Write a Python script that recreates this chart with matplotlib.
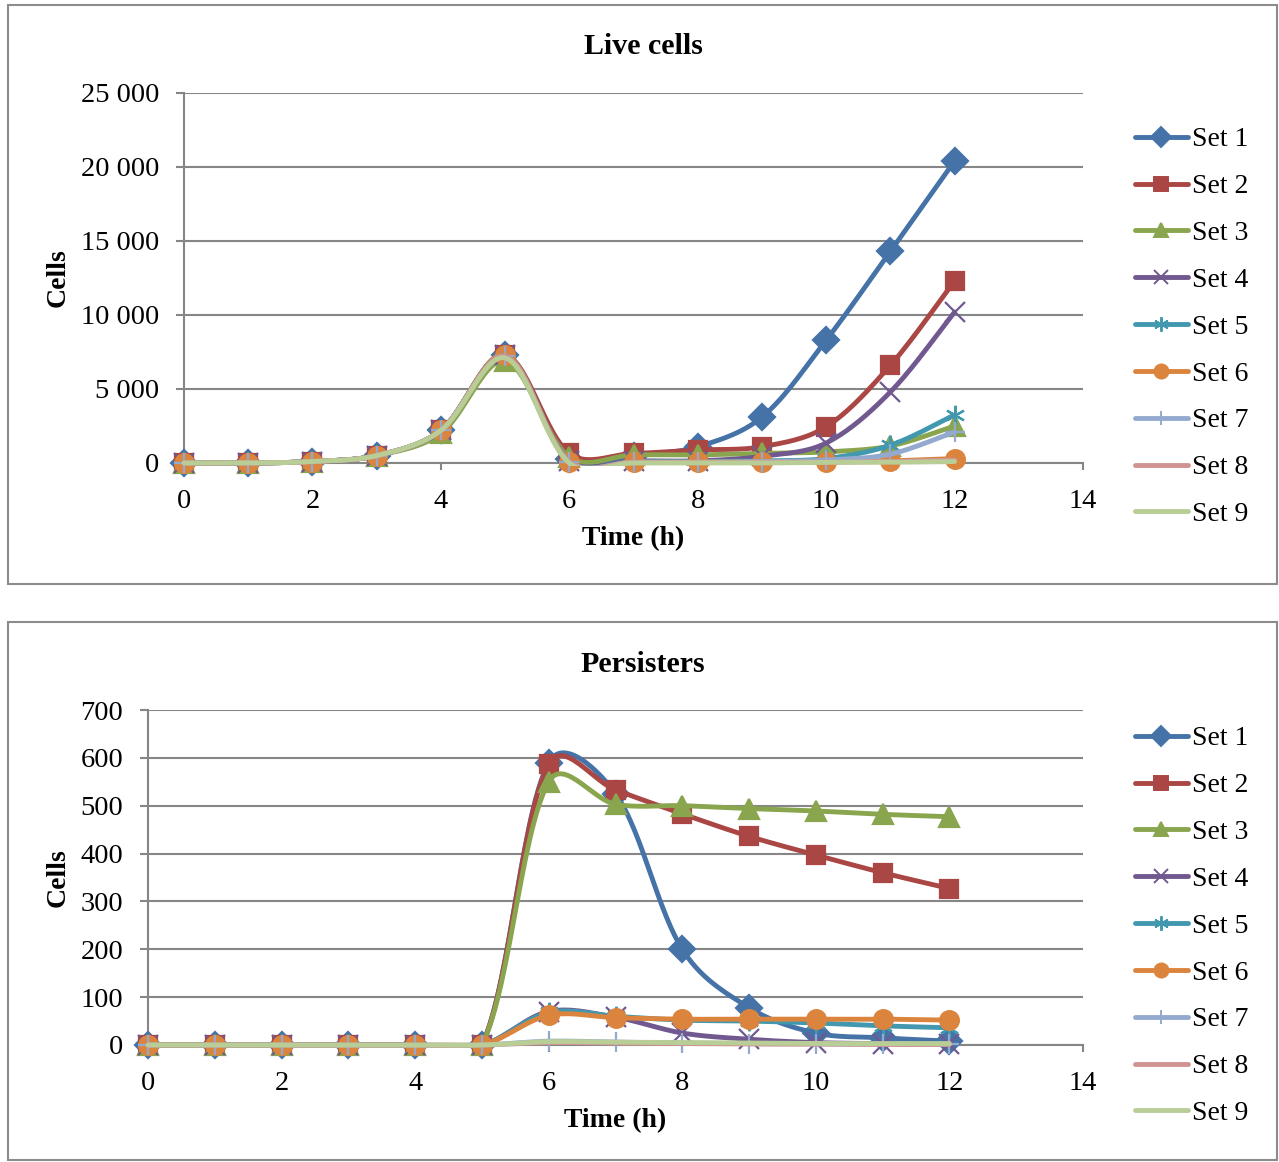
import numpy as np
import matplotlib
matplotlib.use("Agg")
import matplotlib.pyplot as plt
from matplotlib.patches import Rectangle
from matplotlib.lines import Line2D
from matplotlib.transforms import Bbox
from matplotlib.ticker import FuncFormatter, MultipleLocator

plt.rcParams["font.family"] = ["Liberation Serif", "DejaVu Serif"]

W, H = 1279, 1162

hours = list(range(13))
set_names = ["Set 1", "Set 2", "Set 3", "Set 4", "Set 5", "Set 6", "Set 7", "Set 8", "Set 9"]

# live cells
live_set1 = [0, 0, 100, 500, 2200, 7300, 300, 500, 1100, 3100, 8300, 14300, 20400]
live_set2 = [0, 0, 100, 500, 2200, 7300, 650, 650, 880, 1100, 2450, 6600, 12300]
live_set3 = [0, 0, 100, 500, 2000, 6900, 400, 550, 550, 650, 750, 1150, 2500]
live_set4 = [0, 0, 100, 500, 2200, 7300, 150, 150, 150, 450, 1350, 4800, 10200]
live_set5 = [0, 0, 100, 500, 2200, 7300, 100, 100, 100, 150, 300, 1200, 3250]
live_set6 = [0, 0, 100, 500, 2200, 7300, 100, 50, 50, 50, 100, 150, 300]
live_set7 = [0, 0, 100, 500, 2200, 7200, 100, 50, 50, 100, 200, 600, 2100]
live_set8 = [0, 0, 100, 500, 2200, 7200, 50, 50, 50, 50, 50, 100, 200]
live_set9 = [0, 0, 100, 500, 2200, 7100, 0, 0, 0, 0, 50, 50, 100]

# persisters
pers_set1 = [0, 0, 0, 0, 0, 0, 590, 525, 200, 78, 25, 15, 8]
pers_set2 = [0, 0, 0, 0, 0, 0, 587, 533, 483, 436, 397, 360, 327]
pers_set3 = [0, 0, 0, 0, 0, 0, 550, 503, 500, 494, 489, 482, 477]
pers_set4 = [0, 0, 0, 0, 0, 0, 70, 58, 25, 12, 5, 3, 2]
pers_set5 = [0, 0, 0, 0, 0, 0, 68, 60, 52, 50, 46, 40, 36]
pers_set6 = [0, 0, 0, 0, 0, 0, 62, 57, 54, 54, 54, 54, 52]
pers_set7 = [0, 0, 0, 0, 0, 0, 8, 6, 4, 3, 2, 2, 2]
pers_set8 = [0, 0, 0, 0, 0, 0, 5, 4, 3, 2, 2, 1, 1]
pers_set9 = [0, 0, 0, 0, 0, 0, 7, 6, 5, 4, 3, 3, 3]

live = [live_set1, live_set2, live_set3, live_set4, live_set5,
        live_set6, live_set7, live_set8, live_set9]
pers = [pers_set1, pers_set2, pers_set3, pers_set4, pers_set5,
        pers_set6, pers_set7, pers_set8, pers_set9]

colors = ["#4572A7", "#AA4643", "#89A54E", "#71588F", "#4198AF",
          "#DB843D", "#93A9CF", "#D19392", "#B9CD96"]
markers = ["D", "s", "^", "x", (6, 2, 0), "o", "+", "None", "None"]
msizes = [13, 13.5, 14, 14, 14, 13.5, 14, 0, 0]
grey = "#868686"
LW = 3.5


def smooth(ax, x, y, n=30):
    # excel-like smoothed line, bezier built in screen space
    pts = ax.transData.transform(np.column_stack([x, y]).astype(float))
    P = np.vstack([pts[:1], pts, pts[-1:]])
    t = np.linspace(0, 1, n, endpoint=False)[:, None]
    segs = []
    for i in range(len(pts) - 1):
        p0, p1, p2, p3 = P[i], P[i + 1], P[i + 2], P[i + 3]
        la, lb, lc = np.linalg.norm(p1 - p0), np.linalg.norm(p2 - p1), np.linalg.norm(p3 - p2)
        r1 = np.sqrt(2 * lb / (la + lb)) if la + lb > 0 else 0
        r2 = np.sqrt(2 * lb / (lb + lc)) if lb + lc > 0 else 0
        c1 = p1 + (p2 - p0) / 6 * r1
        c2 = p2 - (p3 - p1) / 6 * r2
        b = ((1 - t) ** 3) * p1 + 3 * (1 - t) ** 2 * t * c1 + 3 * (1 - t) * t ** 2 * c2 + t ** 3 * p2
        segs.append(b)
    segs.append(pts[-1:])
    out = ax.transData.inverted().transform(np.vstack(segs))
    return out[:, 0], out[:, 1]


def fmt(v, pos):
    return f"{int(round(v)):,}".replace(",", " ")


def panel(box, title, data, ymax, ystep, legend_top):
    left, top, right, bottom = box
    ax = fig.add_axes([left / W, 1 - bottom / H, (right - left) / W, (bottom - top) / H])
    ax.set_xlim(0, 14)
    ax.set_ylim(0, ymax)
    x0, y0, x1, y1 = ax.bbox.extents
    clip = Bbox.from_extents(x0 - 8, y0 - 2.5, x1 + 8, y1 + 8)
    handles = []
    for k, (name, vals, c, m, ms) in enumerate(zip(set_names, data, colors, markers, msizes)):
        xs, ys = smooth(ax, hours, vals)
        ln, = ax.plot(xs, ys, color=c, lw=LW, solid_capstyle="round", zorder=3 + k * 0.1)
        ln.set_clip_box(clip)
        if m != "None":
            ax.plot(hours, vals, ls="none", marker=m, ms=ms, mfc=c, mec=c, mew=1.6,
                    clip_on=False, zorder=3.05 + k * 0.1)
        handles.append(Line2D([], [], color=c, lw=LW, marker=m, ms=ms * 0.75,
                              mfc=c, mec=c, mew=1.4, solid_capstyle="round"))
    ax.xaxis.set_major_locator(MultipleLocator(2))
    ax.yaxis.set_major_locator(MultipleLocator(ystep))
    ax.yaxis.set_major_formatter(FuncFormatter(fmt))
    ax.grid(axis="y", color=grey, lw=1.5)
    ax.set_axisbelow(True)
    for s in ["top", "right"]:
        ax.spines[s].set_visible(False)
    for s in ["left", "bottom"]:
        ax.spines[s].set_color(grey)
        ax.spines[s].set_linewidth(1.5)
    ax.tick_params(axis="y", length=6, width=1.5, color=grey, pad=12, labelsize=20.5)
    ax.tick_params(axis="x", length=5, width=1.5, color=grey, pad=14, labelsize=20.5)
    cx = (left + right) / 2
    fig.text(cx / W, 1 - (bottom + 76) / H, "Time (h)", ha="center", va="center",
             fontsize=20, fontweight="bold")
    fig.text(58 / W, 1 - (top + bottom) / 2 / H, "Cells", ha="center", va="center",
             rotation=90, fontsize=20, fontweight="bold")
    fig.text(643 / W, 1 - (top - 46) / H, title, ha="center", va="center",
             fontsize=21.5, fontweight="bold")
    fig.legend(handles, set_names, loc="upper left",
               bbox_to_anchor=(1135 / W, 1 - legend_top / H), frameon=False,
               fontsize=20, handlelength=1.9, handletextpad=0.15,
               labelspacing=0.77, borderpad=0, borderaxespad=0)
    return ax


fig = plt.figure(figsize=(W / 100, H / 100), dpi=100)

fig.add_artist(Rectangle((8 / W, 1 - 584 / H), 1269 / W, 579 / H,
                         transform=fig.transFigure, fill=False, ec="#8C8C8C", lw=1.5))
fig.add_artist(Rectangle((8 / W, 1 - 1160 / H), 1269 / W, 538 / H,
                         transform=fig.transFigure, fill=False, ec="#8C8C8C", lw=1.5))

panel((184, 93, 1083, 463), "Live cells", live, 25000, 5000, 127)
panel((148, 710, 1083, 1045), "Persisters", pers, 700, 100, 726)

fig.savefig("out.png", dpi=100)
